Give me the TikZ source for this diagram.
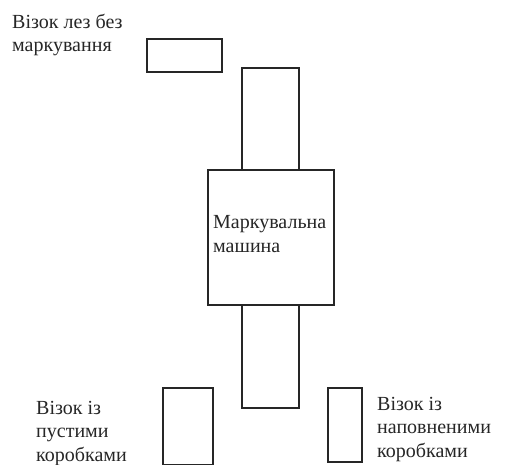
\documentclass[tikz,border=0pt]{standalone}
\usepackage{fontspec}
\setmainfont{Liberation Serif}
\begin{document}
\begin{tikzpicture}[x=1pt,y=-1pt,
  box/.style={draw=black!85,line width=1.1pt,fill=white},
  lbl/.style={anchor=base west,align=left,inner sep=0pt,font=\fontsize{20}{23.5}\selectfont,text=black!85}]
\useasboundingbox (0,0) rectangle (506,465);
\draw[box] (147,39) rectangle (222,72);
\draw[box] (242,68) rectangle (299,408);
\draw[box] (208,170) rectangle (334,305);
\draw[box] (163,388) rectangle (213,465);
\draw[box] (328,388) rectangle (362,462);
\node[lbl] (a) at (12,52) {Візок лез без\\маркування};
\node[lbl] (m) at (213,252) {Маркувальна\\машина};
\node[lbl] (b) at (36,461) {Візок із\\пустими\\коробками};
\node[lbl] (c) at (377,457) {Візок із\\наповненими\\коробками};
\end{tikzpicture}
\end{document}
